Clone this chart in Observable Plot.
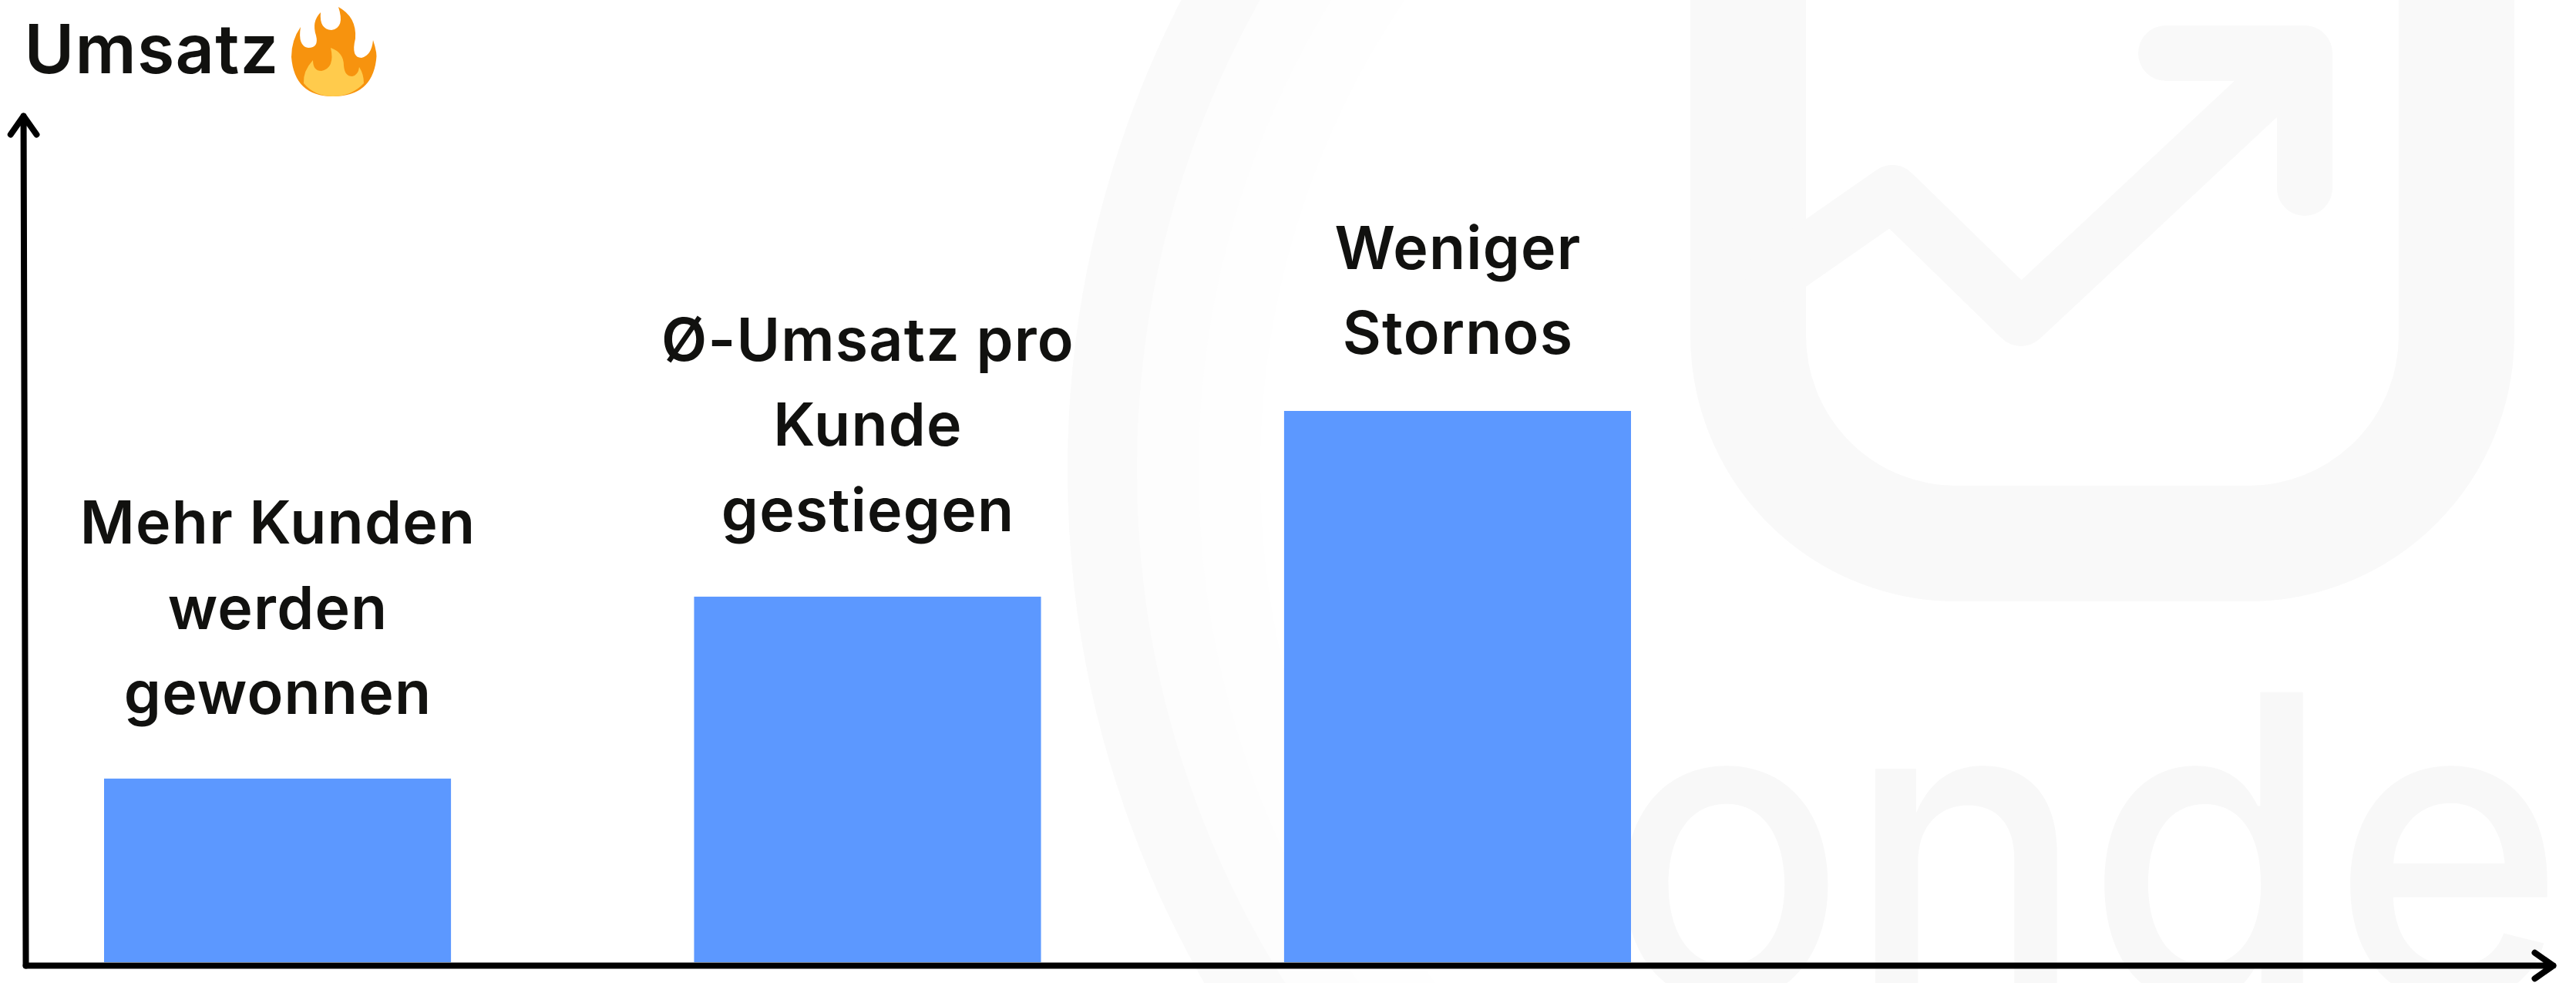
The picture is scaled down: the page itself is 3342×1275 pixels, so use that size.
<!DOCTYPE html>
<html lang="de">
<head>
<meta charset="utf-8">
<script src="https://cdn.jsdelivr.net/npm/d3@7"></script>
<script src="https://cdn.jsdelivr.net/npm/@observablehq/plot@0.6"></script>
<style>
  html, body { margin: 0; padding: 0; background: #fff; overflow: hidden; }
  svg { display: block; max-width: none !important; }
  .chart-label text { letter-spacing: 1.2px; }
</style>
</head>
<body>
<div id="chart"></div>
<script>
// Chart data (bar heights, on an unlabelled 0-100 revenue axis)
const categories = ["kunden", "umsatz", "stornos"];
const values = [21.65, 43.1, 65];
const labels = ["Mehr Kunden\nwerden\ngewonnen", "Ø-Umsatz pro\nKunde\ngestiegen", "Weniger\nStornos"];
const labelGaps = [7.7, 7.8, 6.8];
const title = ["Umsatz"];

const data = categories.map((c, i) => ({category: c, value: values[i], label: labels[i], labelAt: values[i] + labelGaps[i]}));

const INK = "#11110f", BLUE = "#5c98ff", FONT = "Inter, sans-serif";
const HALF_BAND = 225; // furniture given in pixels must undo Plot's half-band shift on x

// Faint logo in the background and the flame emoji: decoration, not data
function backdrop() {
  const g = d3.create("svg:g").attr("fill", "none");
  g.append("circle").attr("cx", 2720).attr("cy", 610).attr("r", 1210).attr("stroke", "#fefefe").attr("stroke-width", 250);
  g.append("circle").attr("cx", 2720).attr("cy", 610).attr("r", 1250).attr("stroke", "#fdfdfd").attr("stroke-width", 170);
  g.append("circle").attr("cx", 2720).attr("cy", 610).attr("r", 1290).attr("stroke", "#fafafa").attr("stroke-width", 90);
  g.append("rect").attr("x", 2268).attr("y", -500).attr("width", 919).attr("height", 1205).attr("rx", 270)
    .attr("stroke", "#f9f9f9").attr("stroke-width", 150);
  g.append("path").attr("d", "M2300 358L2455 250L2622 413L2990 69M2810 69H2990V244")
    .attr("stroke", "#f9f9f9").attr("stroke-width", 72).attr("stroke-linecap", "round").attr("stroke-linejoin", "round");
  g.append("text").text("onde").attr("transform", "translate(2084,1295) scale(0.945,1)")
    .attr("fill", "#f8f8f8").attr("font-family", "Inter, sans-serif").attr("font-weight", 500)
    .attr("font-size", 546).attr("text-anchor", "start");
  return g.node();
}
function flame() {
  const g = d3.create("svg:g");
  g.append("path").attr("fill", "#f7930e").attr("d",
    "M390 35Q386 60 400 62Q414 62 410 46Q404 28 416 16Q414 38 430 39Q448 36 439 9Q463 22 461 50Q455 75 469 75Q482 72 484 52Q490 70 488 78Q482 125 432 125Q382 125 378 74Q378 52 390 35Z");
  g.append("path").attr("fill", "#ffcb4c").attr("d",
    "M394 108Q393 92 406 78Q406 92 417 92Q435 88 429 62Q446 68 446 85Q447 99 457 99Q465 97 466 87Q472 96 472 108Q456 125 432 125Q408 125 394 108Z");
  return g.node();
}

const px = (v) => ({value: [v], scale: null});
const arrowStyle = {bend: 0, stroke: "#000", strokeWidth: 8, headLength: 5.5, headAngle: 70, strokeLinecap: "round", strokeLinejoin: "round", dx: -HALF_BAND};

const chart = Plot.plot({
  width: 3342,
  height: 1275,
  margin: 0,
  style: {background: "#fff"},
  x: {domain: categories, range: [135, 2116], paddingInner: 0.412, paddingOuter: 0, round: false, axis: null},
  y: {domain: [0, 100], range: [1248, 148], axis: null},
  marks: [
    backdrop,
    Plot.barY(data, {x: "category", y: "value", fill: BLUE}),
    Plot.arrow([0], {x1: px(33), y1: px(1252), x2: px(3312), y2: px(1252), ...arrowStyle}),
    Plot.arrow([0], {x1: px(33), y1: px(1252), x2: px(30), y2: px(150), ...arrowStyle}),
    Plot.text(data, {x: "category", y: "labelAt", text: "label", lineAnchor: "bottom", lineHeight: 1.43, fontSize: 77, fontWeight: 600, fontFamily: FONT, fill: INK, textAnchor: "middle", className: "chart-label"}),
    Plot.text(title, {x: px(31), y: px(94), text: (d) => d, textAnchor: "start", lineAnchor: "bottom", dx: -HALF_BAND, fontSize: 88, fontWeight: 600, fontFamily: FONT, fill: INK, className: "chart-label"}),
    flame
  ]
});
document.getElementById("chart").append(chart);
</script>
</body>
</html>
